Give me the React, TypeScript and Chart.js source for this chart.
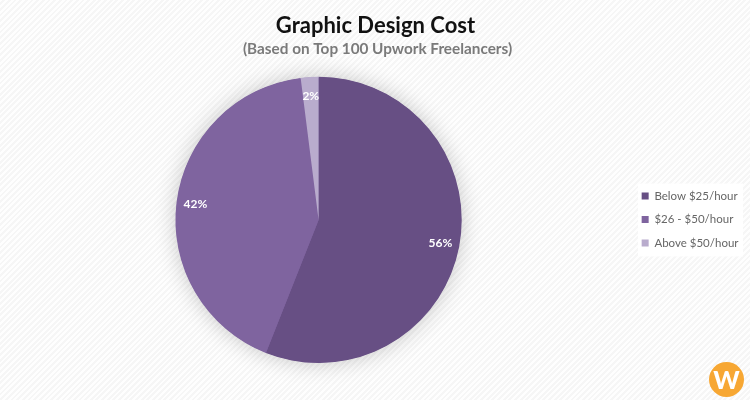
import React, { useEffect, useRef } from "react";
import { Chart, registerables } from "chart.js";

Chart.register(...registerables);

const titleText = "Graphic Design Cost";
const subtitleText = "(Based on Top 100 Upwork Freelancers)";
const categories = ["Below $25/hour", "$26 - $50/hour", "Above $50/hour"];
const shares = [56, 42, 2];
const sliceColors = ["#674F84", "#7F649F", "#B9ACCD"];

const pieShadow = {
  id: "pieShadow",
  beforeDatasetsDraw(chart: any) {
    const arc = chart.getDatasetMeta(0).data[0];
    const ctx = chart.ctx;
    ctx.save();
    ctx.shadowColor = "rgba(0,0,0,0.22)";
    ctx.shadowBlur = 22;
    ctx.shadowOffsetY = 0;
    ctx.fillStyle = "#7F649F";
    ctx.beginPath();
    ctx.arc(arc.x, arc.y, arc.outerRadius - 0.5, 0, Math.PI * 2);
    ctx.fill();
    ctx.restore();
  },
};

const sliceLabels = {
  id: "sliceLabels",
  afterDatasetsDraw(chart: any) {
    const ctx = chart.ctx;
    ctx.save();
    ctx.font = "bold 12px Lato";
    ctx.fillStyle = "#ffffff";
    ctx.textAlign = "center";
    ctx.textBaseline = "middle";
    chart.getDatasetMeta(0).data.forEach((arc: any, i: number) => {
      const mid = (arc.startAngle + arc.endAngle) / 2;
      const r = arc.outerRadius - 19;
      ctx.fillText(`${shares[i]}%`, arc.x + Math.cos(mid) * r, arc.y + Math.sin(mid) * r);
    });
    ctx.restore();
  },
};

const placement = {
  id: "placement",
  afterLayout(chart: any) {
    const l = chart.legend;
    const dy = 219.5 - (l.top + l.bottom) / 2;
    l.top += dy;
    l.bottom += dy;
    l.left -= 1.5;
    l.right -= 1.5;
    chart.boxes.forEach((box: any) => {
      if (box.position !== "top") return;
      const shift = box.options.text === titleText ? -2.5 : -0.5;
      box.left += shift;
      box.right += shift;
    });
  },
  beforeDraw(chart: any) {
    const l = chart.legend;
    const ctx = chart.ctx;
    ctx.save();
    ctx.fillStyle = "rgba(255,255,255,0.95)";
    ctx.fillRect(638, (l.top + l.bottom) / 2 - 36, 105, 73);
    ctx.restore();
  },
};

export default function App() {
  const ref = useRef<HTMLCanvasElement>(null);

  useEffect(() => {
    document.body.style.margin = "0";
    const chart = new Chart(ref.current!, {
      type: "pie",
      data: {
        labels: categories,
        datasets: [
          {
            data: shares,
            backgroundColor: sliceColors,
            borderWidth: 0,
          },
        ],
      },
      plugins: [pieShadow, sliceLabels, placement],
      options: {
        animation: false,
        responsive: false,
        layout: { padding: { top: 0, bottom: 37, left: 6, right: 0 } },
        plugins: {
          title: {
            display: true,
            text: titleText,
            color: "#111111",
            font: { family: "Lato", size: 22, weight: "bold" },
            padding: { top: 13, bottom: 0 },
          },
          subtitle: {
            display: true,
            text: subtitleText,
            color: "#7A7A7A",
            font: { family: "Lato", size: 15.3, weight: "bold" },
            padding: { top: 0, bottom: 19 },
          },
          legend: {
            position: "right",
            labels: {
              boxWidth: 7,
              boxHeight: 7,
              padding: 12,
              color: "#666666",
              font: { family: "Lato", size: 11.5 },
            },
          },
          tooltip: { enabled: false },
        },
      },
    } as any);
    return () => chart.destroy();
  }, []);

  return (
    <div
      style={{
        position: "relative",
        width: 750,
        height: 400,
        overflow: "hidden",
        background:
          "repeating-linear-gradient(135deg, #fefefe 0px, #fefefe 2px, #f6f6f6 2px, #f6f6f6 4px)",
      }}
    >
      <canvas ref={ref} width={750} height={400} style={{ display: "block" }} />
      <div
        style={{
          position: "absolute",
          left: 709,
          top: 362,
          width: 35,
          height: 35,
          borderRadius: "50%",
          background: "#F7A733",
          color: "#fff",
          font: "900 25px Lato",
          lineHeight: "35px",
          textAlign: "center",
        }}
      >
        W
      </div>
    </div>
  );
}
